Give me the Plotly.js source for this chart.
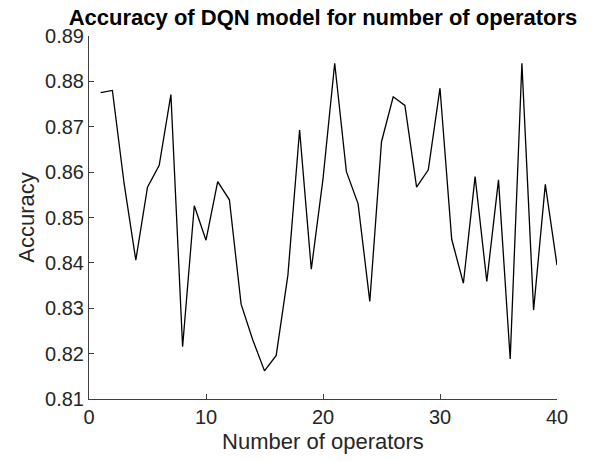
<!DOCTYPE html>
<html>
<head>
<meta charset="utf-8">
<script src="https://cdn.plot.ly/plotly-3.0.1.min.js"></script>
<style>html,body{margin:0;padding:0;background:#fff;}#chart{width:598px;height:461px;}</style>
</head>
<body>
<div id="chart"></div>
<script>
const operators = [1,2,3,4,5,6,7,8,9,10,11,12,13,14,15,16,17,18,19,20,21,22,23,24,25,26,27,28,29,30,31,32,33,34,35,36,37,38,39,40];
const accuracy = [0.8775,0.8780,0.8575,0.8406,0.8567,0.8615,0.8771,0.8215,0.8526,0.8450,
                  0.8579,0.8539,0.8309,0.8230,0.8162,0.8196,0.8373,0.8693,0.8386,0.8585,
                  0.8840,0.8601,0.8530,0.8315,0.8667,0.8766,0.8747,0.8567,0.8605,0.8785,
                  0.8452,0.8355,0.8590,0.8359,0.8583,0.8188,0.8840,0.8296,0.8573,0.8395];
const xTicks = [0,10,20,30,40];
const yTicks = [0.81,0.82,0.83,0.84,0.85,0.86,0.87,0.88,0.89];
const titleText = 'Accuracy of DQN model for number of operators';
const xLabel = 'Number of operators';
const yLabel = 'Accuracy';

const font = 'Liberation Sans, Arial, Helvetica, sans-serif';
const axisCol = '#404040';

Plotly.newPlot('chart', [{
  x: operators, y: accuracy, type: 'scatter', mode: 'lines',
  line: {color: '#000000', width: 1.3}, hoverinfo: 'none'
}], {
  width: 598, height: 461,
  margin: {l: 88.5, r: 40.5, t: 36, b: 62, pad: 0},
  paper_bgcolor: '#ffffff', plot_bgcolor: '#ffffff',
  showlegend: false,
  font: {family: font, color: '#262626'},
  title: {
    text: '<b>' + titleText + '</b>',
    font: {family: font, size: 22, color: '#000000'},
    xref: 'paper', x: 0.5, xanchor: 'center',
    yref: 'container', y: 1 - 17.5/461, yanchor: 'middle'
  },
  xaxis: {
    range: [0, 40], tickvals: xTicks, ticktext: xTicks.map(String),
    ticks: 'inside', ticklen: 5, tickcolor: axisCol, tickwidth: 1,
    showline: true, linecolor: axisCol, linewidth: 1, mirror: false,
    showgrid: false, zeroline: false,
    tickfont: {family: font, size: 20, color: '#262626'},
    title: {text: xLabel, font: {family: font, size: 22, color: '#262626'}, standoff: 6}
  },
  yaxis: {
    range: [0.81, 0.89], tickvals: yTicks, ticktext: yTicks.map(v => v.toFixed(2)),
    ticks: 'inside', ticklen: 5, tickcolor: axisCol, tickwidth: 1,
    showline: true, linecolor: axisCol, linewidth: 1, mirror: false,
    showgrid: false, zeroline: false,
    tickfont: {family: font, size: 20, color: '#262626'},
    title: {text: yLabel, font: {family: font, size: 22, color: '#262626'}, standoff: 4}
  }
}, {staticPlot: true});
</script>
</body>
</html>
